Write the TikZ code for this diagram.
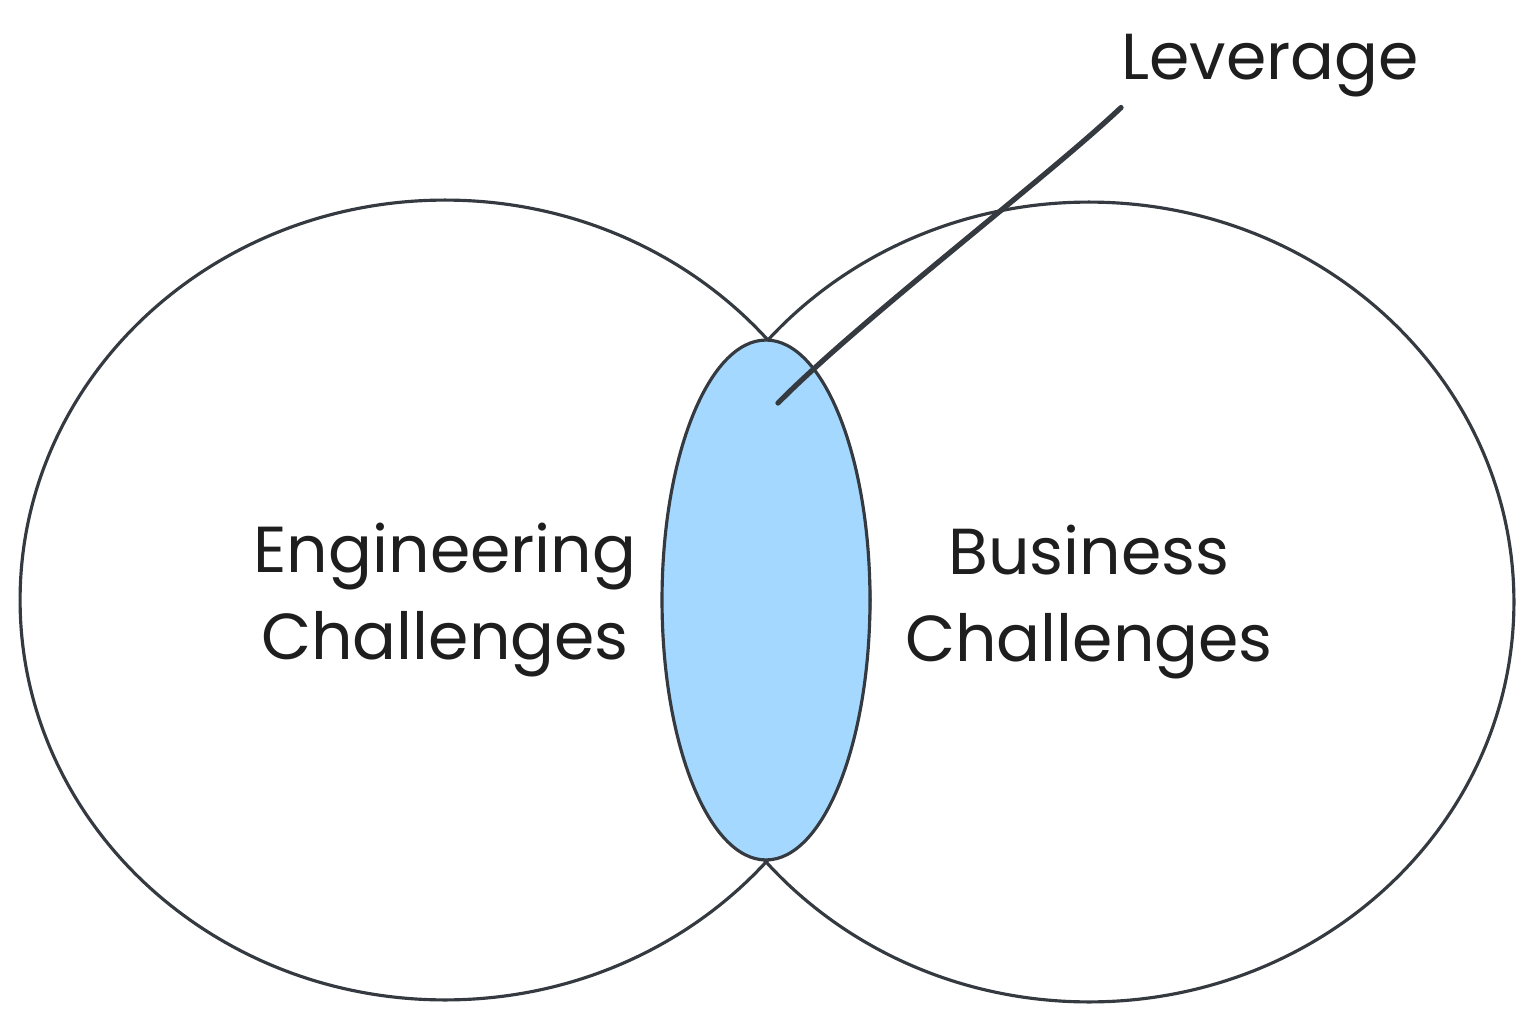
\documentclass[tikz,border=0pt]{standalone}
\usepackage{fontspec}
\setmainfont{Poppins}
\usetikzlibrary{shapes.geometric}
\definecolor{inkgray}{HTML}{343A40}
\definecolor{textgray}{HTML}{1E1E1E}
\definecolor{overlapblue}{HTML}{A5D8FF}

\begin{document}
\begin{tikzpicture}[
            x=0.02cm, y=-0.02cm,
            outline/.style={ellipse, draw=inkgray, line width=1.8pt, inner sep=0pt},
            bigset/.style={outline, minimum width=17cm, minimum height=16cm},
            overlapset/.style={outline, fill=overlapblue, minimum width=4.16cm, minimum height=10.4cm},
            settext/.style={align=center, text=textgray, font=\fontsize{37}{50}\selectfont},
            leader/.style={draw=inkgray, line width=3pt, line cap=round}
        ]
            \useasboundingbox (0, 0) rectangle (1533, 1023);

            % the two sets
            \node[bigset, settext] (engineering) at (445, 600) {Engineering\\Challenges};
            \node[bigset, settext] (business) at (1089, 602) {Business\\Challenges};

            % overlap
            \node[overlapset] (overlap) at (766, 600) {};

            % label and leader line
            \node[settext, inner sep=0pt, anchor=north west] (leverage) at (1121, 34) {Leverage};
            \coordinate (tip) at (778, 403);
            \draw[leader] ([yshift=-0.2cm]leverage.south west) .. controls (1050, 175) and (860, 320) .. (tip);

        \end{tikzpicture}
\end{document}
